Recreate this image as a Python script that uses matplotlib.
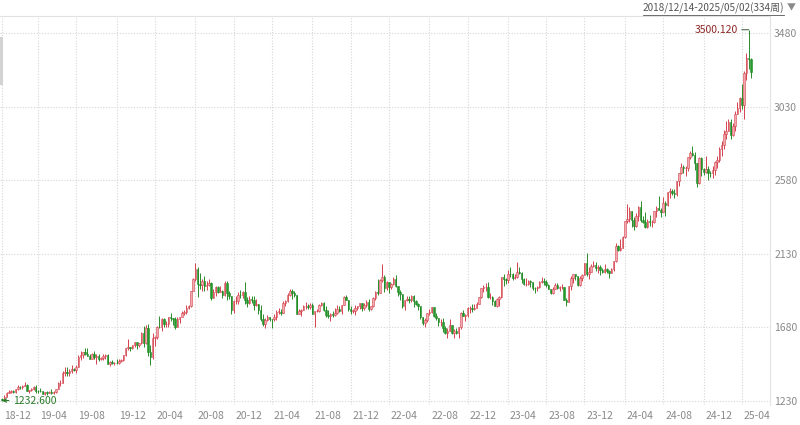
import pandas as pd
import matplotlib
matplotlib.use("Agg")
import matplotlib.pyplot as plt
import matplotlib.transforms as mtransforms
from matplotlib.patches import Rectangle
from matplotlib.lines import Line2D

plt.rcParams['font.family'] = ['Noto Sans CJK SC', 'DejaVu Sans']

# Weekly OHLC, 2018-12-14 .. 2025-05-02 (one row per year)
opens = [
    1243, 1238, 1257,
    1281, 1285, 1289, 1282, 1304, 1317, 1314, 1322, 1328, 1294, 1298, 1302, 1313, 1292, 1291, 1290, 1275, 1286, 1279, 1286, 1277, 1283, 1305, 1341, 1341, 1400, 1409, 1399, 1415, 1426, 1419, 1440, 1497, 1513, 1527, 1520, 1507, 1488, 1517, 1497, 1505, 1489, 1490, 1505, 1514, 1459, 1468, 1462, 1464, 1460, 1476, 1478,
    1511, 1552, 1562, 1557, 1571, 1589, 1570, 1584, 1643, 1585, 1674, 1530, 1498, 1617, 1620, 1684, 1683, 1729, 1700, 1703, 1744, 1735, 1730, 1683, 1730, 1743, 1771, 1775, 1799, 1810, 1902, 1975, 2035, 1944, 1940, 1964, 1934, 1940, 1950, 1861, 1899, 1930, 1899, 1902, 1878, 1951, 1889, 1871, 1788, 1839, 1839, 1881,
    1877, 1898, 1849, 1828, 1856, 1850, 1814, 1824, 1784, 1734, 1700, 1727, 1745, 1733, 1729, 1744, 1777, 1777, 1768, 1831, 1844, 1881, 1905, 1891, 1877, 1764, 1781, 1787, 1808, 1812, 1802, 1814, 1763, 1780, 1781, 1818, 1827, 1787, 1754, 1750, 1761, 1757, 1767, 1793, 1783, 1818, 1865, 1846, 1792, 1783, 1783, 1798, 1811,
    1829, 1797, 1818, 1835, 1791, 1808, 1859, 1898, 1889, 1970, 1988, 1921, 1958, 1925, 1946, 1975, 1932, 1897, 1883, 1811, 1846, 1853, 1850, 1871, 1840, 1826, 1811, 1742, 1708, 1727, 1766, 1775, 1802, 1747, 1737, 1712, 1716, 1675, 1644, 1660, 1695, 1644, 1657, 1644, 1681, 1771, 1751, 1755, 1797, 1797, 1793, 1798,
    1824, 1865, 1921, 1926, 1928, 1865, 1865, 1842, 1811, 1856, 1868, 1989, 1978, 1969, 2007, 2004, 1983, 1990, 2017, 2011, 1978, 1946, 1948, 1961, 1958, 1921, 1919, 1925, 1955, 1962, 1959, 1942, 1914, 1889, 1915, 1940, 1919, 1924, 1925, 1849, 1833, 1932, 1981, 2006, 1993, 1940, 1981, 2002, 2072, 2005, 2019, 2053,
    2063, 2045, 2049, 2029, 2018, 2039, 2024, 2013, 2035, 2083, 2179, 2156, 2165, 2230, 2330, 2344, 2392, 2337, 2301, 2360, 2415, 2334, 2327, 2294, 2333, 2322, 2326, 2392, 2411, 2400, 2387, 2443, 2431, 2507, 2512, 2503, 2497, 2577, 2622, 2658, 2653, 2657, 2721, 2747, 2736, 2684, 2563, 2715, 2650, 2633, 2648, 2622,
    2621, 2640, 2690, 2703, 2770, 2798, 2861, 2883, 2936, 2858, 2910, 2984, 3023, 3084, 3037, 3237, 3327, 3319,
]
highs = [
    1250, 1267, 1284,
    1298, 1297, 1299, 1304, 1326, 1320, 1326, 1346, 1332, 1300, 1311, 1320, 1325, 1299, 1310, 1294, 1287, 1289, 1291, 1304, 1289, 1306, 1348, 1358, 1411, 1439, 1438, 1425, 1453, 1433, 1449, 1510, 1535, 1530, 1555, 1557, 1516, 1522, 1535, 1519, 1516, 1499, 1518, 1516, 1515, 1475, 1478, 1466, 1485, 1487, 1485, 1514,
    1553, 1611, 1563, 1575, 1590, 1592, 1584, 1649, 1689, 1692, 1703, 1575, 1645, 1626, 1690, 1748, 1739, 1738, 1722, 1745, 1765, 1739, 1745, 1745, 1745, 1779, 1789, 1818, 1815, 1905, 1984, 2075, 2049, 2015, 1977, 1992, 1966, 1974, 1955, 1917, 1933, 1933, 1932, 1911, 1965, 1966, 1900, 1875, 1848, 1875, 1896, 1907,
    1900, 1959, 1863, 1875, 1875, 1875, 1855, 1826, 1816, 1760, 1740, 1755, 1746, 1734, 1759, 1784, 1797, 1790, 1843, 1846, 1890, 1913, 1916, 1903, 1877, 1795, 1790, 1818, 1834, 1825, 1832, 1831, 1782, 1795, 1824, 1834, 1833, 1809, 1787, 1765, 1782, 1801, 1814, 1810, 1818, 1870, 1877, 1849, 1808, 1793, 1815, 1812, 1831,
    1832, 1831, 1848, 1853, 1813, 1865, 1903, 1975, 1974, 2070, 1998, 1966, 1960, 1949, 1988, 1998, 1936, 1910, 1887, 1850, 1870, 1874, 1877, 1879, 1847, 1830, 1813, 1745, 1739, 1767, 1794, 1807, 1804, 1765, 1740, 1729, 1735, 1688, 1675, 1729, 1697, 1669, 1675, 1682, 1772, 1786, 1763, 1804, 1810, 1824, 1823, 1833,
    1865, 1922, 1937, 1949, 1960, 1890, 1870, 1846, 1858, 1870, 1990, 2009, 1983, 2032, 2048, 2015, 2009, 2079, 2048, 2020, 1985, 1984, 1971, 1972, 1960, 1926, 1936, 1964, 1987, 1982, 1968, 1948, 1916, 1924, 1953, 1953, 1932, 1947, 1926, 1859, 1933, 1997, 2009, 2007, 1993, 1993, 2008, 2075, 2135, 2048, 2070, 2088,
    2079, 2063, 2062, 2041, 2065, 2043, 2031, 2041, 2088, 2195, 2186, 2223, 2236, 2331, 2432, 2418, 2393, 2353, 2378, 2422, 2450, 2364, 2387, 2342, 2368, 2339, 2393, 2424, 2484, 2412, 2477, 2451, 2509, 2531, 2528, 2529, 2578, 2625, 2685, 2673, 2664, 2722, 2758, 2790, 2750, 2685, 2721, 2721, 2657, 2726, 2664, 2638,
    2665, 2697, 2726, 2786, 2817, 2886, 2942, 2955, 2956, 2930, 3005, 3057, 3087, 3167, 3245, 3358, 3500.12, 3327,
]
lows = [
    1232.6, 1236, 1255,
    1276, 1279, 1276, 1276, 1300, 1303, 1302, 1320, 1290, 1281, 1290, 1297, 1281, 1280, 1282, 1270, 1266, 1266, 1278, 1274, 1273, 1280, 1303, 1321, 1339, 1383, 1382, 1385, 1403, 1412, 1400, 1437, 1480, 1492, 1513, 1504, 1485, 1484, 1485, 1459, 1474, 1479, 1480, 1486, 1456, 1445, 1456, 1451, 1458, 1456, 1470, 1476,
    1508, 1543, 1536, 1546, 1563, 1548, 1563, 1578, 1563, 1576, 1504, 1451, 1484, 1567, 1611, 1675, 1660, 1680, 1682, 1685, 1718, 1693, 1670, 1680, 1704, 1741, 1757, 1763, 1795, 1807, 1900, 1964, 1863, 1912, 1902, 1902, 1906, 1932, 1848, 1860, 1873, 1889, 1895, 1860, 1875, 1850, 1854, 1764, 1770, 1820, 1825, 1860,
    1862, 1826, 1803, 1826, 1830, 1784, 1810, 1760, 1717, 1687, 1676, 1718, 1718, 1678, 1721, 1724, 1763, 1756, 1765, 1808, 1838, 1870, 1855, 1867, 1761, 1761, 1750, 1786, 1792, 1794, 1790, 1759, 1682, 1772, 1776, 1808, 1782, 1745, 1737, 1722, 1746, 1750, 1760, 1772, 1759, 1815, 1845, 1782, 1762, 1766, 1753, 1785, 1790,
    1782, 1789, 1806, 1780, 1788, 1806, 1845, 1878, 1889, 1955, 1895, 1910, 1890, 1915, 1941, 1928, 1872, 1850, 1798, 1787, 1840, 1829, 1836, 1805, 1816, 1784, 1732, 1697, 1681, 1711, 1754, 1765, 1745, 1727, 1688, 1691, 1654, 1640, 1615, 1659, 1640, 1617, 1638, 1616, 1673, 1749, 1721, 1744, 1765, 1774, 1785, 1797,
    1823, 1860, 1896, 1900, 1862, 1853, 1819, 1809, 1804, 1809, 1858, 1934, 1944, 1950, 1991, 1969, 1975, 1981, 2006, 1951, 1937, 1932, 1939, 1925, 1910, 1893, 1902, 1922, 1949, 1942, 1929, 1912, 1885, 1885, 1912, 1915, 1901, 1913, 1846, 1810, 1833, 1908, 1954, 1970, 1932, 1931, 1965, 2001, 1995, 1974, 2016, 2048,
    2024, 2014, 2002, 2010, 2012, 2015, 1984, 2010, 2024, 2078, 2146, 2146, 2164, 2228, 2319, 2324, 2292, 2277, 2291, 2332, 2325, 2316, 2286, 2286, 2303, 2293, 2319, 2352, 2395, 2353, 2383, 2364, 2425, 2470, 2492, 2472, 2485, 2546, 2618, 2625, 2604, 2639, 2708, 2730, 2643, 2536, 2558, 2605, 2614, 2623, 2583, 2599,
    2596, 2614, 2656, 2690, 2730, 2773, 2832, 2882, 2832, 2853, 2880, 2982, 3000, 3015, 2957, 3194, 3260, 3202,
]
closes = [
    1238, 1257, 1281,
    1285, 1289, 1282, 1304, 1317, 1314, 1322, 1328, 1294, 1298, 1302, 1313, 1292, 1291, 1290, 1275, 1286, 1279, 1286, 1277, 1283, 1305, 1341, 1341, 1400, 1409, 1399, 1415, 1426, 1419, 1440, 1497, 1513, 1527, 1520, 1507, 1488, 1517, 1497, 1505, 1489, 1490, 1505, 1514, 1459, 1468, 1462, 1464, 1460, 1476, 1478, 1511,
    1552, 1562, 1557, 1571, 1589, 1570, 1584, 1643, 1585, 1674, 1530, 1498, 1617, 1620, 1684, 1683, 1729, 1700, 1703, 1744, 1735, 1730, 1683, 1730, 1743, 1771, 1775, 1799, 1810, 1902, 1975, 2035, 1944, 1940, 1964, 1934, 1940, 1950, 1861, 1899, 1930, 1899, 1902, 1878, 1951, 1889, 1871, 1788, 1839, 1839, 1881, 1877,
    1898, 1849, 1828, 1856, 1850, 1814, 1824, 1784, 1734, 1700, 1727, 1745, 1733, 1729, 1744, 1777, 1777, 1768, 1831, 1844, 1881, 1905, 1891, 1877, 1764, 1781, 1787, 1808, 1812, 1802, 1814, 1763, 1780, 1781, 1818, 1827, 1787, 1754, 1750, 1761, 1757, 1767, 1793, 1783, 1818, 1865, 1846, 1792, 1783, 1783, 1798, 1811, 1829,
    1797, 1818, 1835, 1791, 1808, 1859, 1898, 1889, 1970, 1988, 1921, 1958, 1925, 1946, 1975, 1932, 1897, 1883, 1811, 1846, 1853, 1850, 1871, 1840, 1826, 1811, 1742, 1708, 1727, 1766, 1775, 1802, 1747, 1737, 1712, 1716, 1675, 1644, 1660, 1695, 1644, 1657, 1644, 1681, 1771, 1751, 1755, 1797, 1797, 1793, 1798, 1824,
    1865, 1921, 1926, 1928, 1865, 1865, 1842, 1811, 1856, 1868, 1989, 1978, 1969, 2007, 2004, 1983, 1990, 2017, 2011, 1978, 1946, 1948, 1961, 1958, 1921, 1919, 1925, 1955, 1962, 1959, 1942, 1914, 1889, 1915, 1940, 1919, 1924, 1925, 1849, 1833, 1932, 1981, 2006, 1993, 1940, 1981, 2002, 2072, 2005, 2019, 2053, 2063,
    2045, 2049, 2029, 2018, 2039, 2024, 2013, 2035, 2083, 2179, 2156, 2165, 2230, 2330, 2344, 2392, 2337, 2301, 2360, 2415, 2334, 2327, 2294, 2333, 2322, 2326, 2392, 2411, 2400, 2387, 2443, 2431, 2507, 2512, 2503, 2497, 2577, 2622, 2658, 2653, 2657, 2721, 2747, 2736, 2684, 2563, 2715, 2650, 2633, 2648, 2622, 2621,
    2640, 2690, 2703, 2770, 2798, 2861, 2883, 2936, 2858, 2910, 2984, 3023, 3084, 3037, 3237, 3327, 3319, 3240,
]

dates = pd.date_range("2018-12-14", periods=len(closes), freq="W-FRI")
y_ticks = [1230, 1680, 2130, 2580, 3030, 3480]

# first week of Dec / Apr / Aug gets a label
tick_idx = [i for i, d in enumerate(dates)
            if d.month in (12, 4, 8) and (i == 0 or dates[i - 1].month != d.month)]
tick_labels = [dates[i].strftime("%y-%m") for i in tick_idx]

fig = plt.figure(figsize=(8, 4.25), dpi=100)
ax = fig.add_axes([0, 20 / 425, 770 / 800, 389 / 425])

x = list(range(len(closes)))
up = [c >= o for o, c in zip(opens, closes)]
wick_col = ['#d4434e' if u else '#2a8c2a' for u in up]
face_col = ['#f2aab0' if u else '#249a2c' for u in up]
edge_col = ['#d4434e' if u else '#208a26' for u in up]
body_bot = [min(o, c) for o, c in zip(opens, closes)]
body_h = [max(abs(c - o), 2) for o, c in zip(opens, closes)]

ax.vlines(x, lows, highs, colors=wick_col, linewidth=0.7, zorder=2)
ax.bar(x, body_h, bottom=body_bot, width=0.66, color=face_col,
       edgecolor=edge_col, linewidth=0.4, zorder=3)

ax.set_xlim(-0.9, 341.5)
ax.set_ylim(1205.5, 3584)

ax.set_xticks(tick_idx)
ax.set_xticklabels(tick_labels, ha='left')
ax.set_yticks(y_ticks)
ax.yaxis.tick_right()
ax.tick_params(axis='both', length=0, labelsize=7.5, colors='#8a8a8a')
ax.tick_params(axis='x', pad=4)
ax.tick_params(axis='y', pad=3)
shift = mtransforms.ScaledTranslation(2 / 100, 0, fig.dpi_scale_trans)
for lab in ax.get_xticklabels():
    lab.set_transform(lab.get_transform() + shift)

ax.grid(True, color='#d6d6d6', linestyle=(0, (1, 1.5)), linewidth=0.8, zorder=0)
for side in ['left', 'bottom']:
    ax.spines[side].set_visible(False)
for side in ['top', 'right']:
    ax.spines[side].set_color('#e2e2e2')
    ax.spines[side].set_linewidth(0.8)

# max / min markers
imax = highs.index(max(highs))
ax.annotate(f"{highs[imax]:.3f}", xy=(imax, highs[imax]), xytext=(-11, 0),
            textcoords='offset pixels', ha='right', va='center', fontsize=7.5,
            color='#8e2525',
            arrowprops=dict(arrowstyle='-', color='#4f6a4f', lw=0.8, shrinkA=1, shrinkB=0))
imin = lows.index(min(lows))
ax.annotate(f"{lows[imin]:.3f}", xy=(imin, lows[imin]), xytext=(11, 0),
            textcoords='offset pixels', ha='left', va='center', fontsize=7.5,
            color='#2a7a2a',
            arrowprops=dict(arrowstyle='->', color='#2a7a2a', lw=0.8, shrinkA=1, shrinkB=0,
                            mutation_scale=6))

# header with date range
header = f"{dates[0]:%Y/%m/%d}-{dates[-1]:%Y/%m/%d}({len(closes)}周)"
ht = fig.text(784 / 800, 1 - 8 / 425, header, ha='right', va='center',
              fontsize=7.2, color='#555555')
fig.text(787 / 800, 1 - 8 / 425, '▼', ha='left', va='center', fontsize=6.5, color='#8a8a8a')
fig.canvas.draw()
bb = ht.get_window_extent()
fig.add_artist(Line2D([bb.x0 / 800, bb.x1 / 800], [(425 - 14.5) / 425] * 2,
                      transform=fig.transFigure, color='#555555', lw=0.6))

# small grey scroll handle on the left edge
fig.add_artist(Rectangle((0, 1 - 85 / 425), 3 / 800, 48 / 425,
                         transform=fig.transFigure, color='#d3d3d3', lw=0))

fig.savefig("out.png", dpi=100)
